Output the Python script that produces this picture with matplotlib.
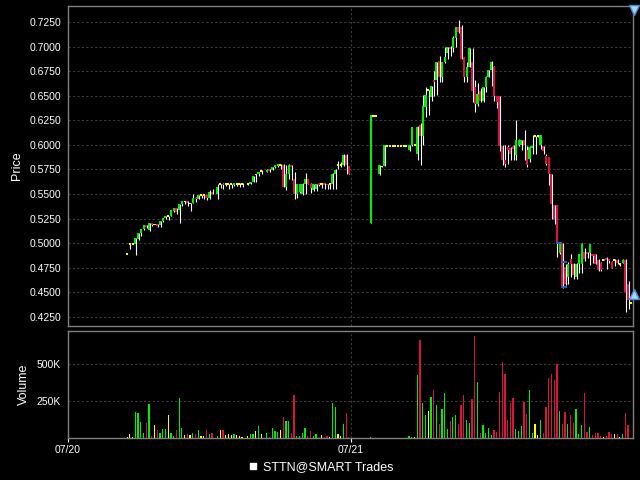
import numpy as np
import matplotlib
matplotlib.use("Agg")
import matplotlib.pyplot as plt
from matplotlib.lines import Line2D

plt.rcParams['font.family'] = ['Liberation Sans', 'DejaVu Sans']

# ---------------------------------------------------------------
# STTN@SMART, 15 min bars, 07/20 - 07/21
# ---------------------------------------------------------------
# day 1
idx1 = [0, 1, 2, 3, 4, 5, 6, 7, 8, 9, 10, 11, 12, 13, 14, 15, 16, 17, 18, 19,
        20, 21, 22, 23, 24, 25, 26, 27, 28, 29, 30, 31, 33, 34, 35, 36, 37, 38, 39, 40,
        41, 42, 44, 45, 46, 47, 48, 49, 51, 52, 53, 54, 55, 56, 57, 58, 59, 60, 61, 62,
        63, 64, 65, 66, 67, 68, 69, 70, 71, 72, 73, 74, 75, 76, 77, 78, 79, 80, 81]
open1 = [0.4890, 0.4995, 0.4995, 0.4995, 0.5045, 0.5100, 0.5140, 0.5185, 0.5130, 0.5205,
         0.5190, 0.5190, 0.5185, 0.5225, 0.5255, 0.5275, 0.5280, 0.5330, 0.5355, 0.5340,
         0.5395, 0.5425, 0.5425, 0.5405, 0.5410, 0.5465, 0.5450, 0.5490, 0.5490, 0.5490,
         0.5455, 0.5525, 0.5505, 0.5600, 0.5605, 0.5600, 0.5600, 0.5600, 0.5595, 0.5605,
         0.5605, 0.5605, 0.5605, 0.5605, 0.5625, 0.5700, 0.5700, 0.5735, 0.5725, 0.5748,
         0.5745, 0.5775, 0.5785, 0.5795, 0.5795, 0.5576, 0.5700, 0.5795, 0.5650, 0.5501,
         0.5520, 0.5501, 0.5603, 0.5651, 0.5603, 0.5545, 0.5550, 0.5610, 0.5603, 0.5610,
         0.5603, 0.5603, 0.5603, 0.5706, 0.5795, 0.5795, 0.5798, 0.5901, 0.5788]
high1 = [0.4890, 0.4995, 0.4995, 0.5050, 0.5105, 0.5140, 0.5185, 0.5190, 0.5205, 0.5210,
         0.5190, 0.5195, 0.5230, 0.5260, 0.5275, 0.5280, 0.5335, 0.5355, 0.5360, 0.5395,
         0.5425, 0.5430, 0.5430, 0.5410, 0.5500, 0.5470, 0.5490, 0.5495, 0.5495, 0.5495,
         0.5540, 0.5552, 0.5600, 0.5605, 0.5610, 0.5605, 0.5605, 0.5605, 0.5615, 0.5610,
         0.5610, 0.5610, 0.5610, 0.5625, 0.5680, 0.5705, 0.5725, 0.5740, 0.5750, 0.5752,
         0.5775, 0.5795, 0.5800, 0.5810, 0.5805, 0.5795, 0.5808, 0.5800, 0.5726, 0.5603,
         0.5603, 0.5610, 0.5715, 0.5655, 0.5608, 0.5605, 0.5605, 0.5612, 0.5605, 0.5615,
         0.5605, 0.5606, 0.5710, 0.5750, 0.5832, 0.5830, 0.5905, 0.5911, 0.5790]
low1 = [0.4890, 0.4940, 0.4995, 0.4885, 0.5030, 0.5070, 0.5135, 0.5150, 0.5120, 0.5180,
        0.5190, 0.5165, 0.5170, 0.5220, 0.5250, 0.5240, 0.5275, 0.5320, 0.5300, 0.5206,
        0.5380, 0.5400, 0.5380, 0.5330, 0.5405, 0.5420, 0.5445, 0.5460, 0.5445, 0.5440,
        0.5445, 0.5500, 0.5450, 0.5560, 0.5550, 0.5580, 0.5550, 0.5560, 0.5580, 0.5580,
        0.5570, 0.5570, 0.5590, 0.5600, 0.5620, 0.5620, 0.5680, 0.5700, 0.5720, 0.5720,
        0.5740, 0.5770, 0.5775, 0.5760, 0.5576, 0.5545, 0.5650, 0.5640, 0.5450, 0.5455,
        0.5510, 0.5495, 0.5500, 0.5600, 0.5510, 0.5530, 0.5535, 0.5580, 0.5560, 0.5550,
        0.5550, 0.5550, 0.5555, 0.5550, 0.5760, 0.5780, 0.5790, 0.5706, 0.5700]
close1 = [0.4890, 0.4995, 0.4995, 0.5050, 0.5105, 0.5140, 0.5185, 0.5165, 0.5205, 0.5190,
          0.5190, 0.5175, 0.5230, 0.5260, 0.5275, 0.5275, 0.5335, 0.5355, 0.5320, 0.5395,
          0.5425, 0.5425, 0.5405, 0.5405, 0.5465, 0.5445, 0.5490, 0.5490, 0.5490, 0.5455,
          0.5525, 0.5505, 0.5575, 0.5600, 0.5590, 0.5600, 0.5600, 0.5600, 0.5615, 0.5605,
          0.5605, 0.5605, 0.5605, 0.5625, 0.5680, 0.5700, 0.5725, 0.5735, 0.5748, 0.5735,
          0.5775, 0.5795, 0.5800, 0.5795, 0.5576, 0.5700, 0.5795, 0.5774, 0.5501, 0.5603,
          0.5600, 0.5603, 0.5651, 0.5603, 0.5560, 0.5603, 0.5603, 0.5600, 0.5603, 0.5598,
          0.5590, 0.5603, 0.5706, 0.5747, 0.5795, 0.5795, 0.5901, 0.5798, 0.5706]
vol1 = [9, 29, 9, 178, 171, 110, 36, 103, 232, 16, 90, 56, 36, 63, 63, 158, 36, 16, 56, 272,
        70, 22, 29, 22, 36, 29, 56, 16, 16, 56, 29, 36, 16, 56, 56, 22, 29, 22, 29, 22,
        16, 9, 16, 29, 29, 50, 83, 29, 36, 9, 70, 50, 43, 56, 144, 117, 117, 36, 292, 16,
        16, 36, 70, 16, 50, 16, 29, 9, 22, 9, 16, 9, 238, 212, 29, 16, 97, 171, 9]

# day 2
idx2 = [89, 90, 91, 92, 93, 94, 95, 96, 97, 98, 99, 100, 101, 102, 103, 104, 105, 106, 107, 108,
        109, 110, 111, 112, 113, 114, 115, 116, 117, 118, 119, 120, 121, 122, 123, 124, 125, 126, 127, 128,
        129, 130, 131, 132, 133, 134, 135, 136, 137, 138, 139, 140, 141, 142, 143, 144, 145, 146, 147, 148,
        149, 150, 151, 152, 153, 154, 155, 156, 157, 158, 159, 160, 161, 162, 163, 164, 165, 166, 167, 168,
        169, 170, 171, 172, 173, 174, 175, 176, 177, 178, 179, 180, 181, 182, 183, 184]
open2 = [0.5203, 0.6294, 0.6294, 0.5700, 0.5780, 0.5790, 0.5988, 0.5988, 0.5988, 0.5988,
         0.5988, 0.5988, 0.5988, 0.5988, 0.5944, 0.5995, 0.6000, 0.5911, 0.6200, 0.6087,
         0.6390, 0.6556, 0.6488, 0.6665, 0.6658, 0.6850, 0.6690, 0.6842, 0.6933, 0.6998,
         0.6988, 0.7090, 0.7202, 0.7202, 0.6890, 0.6694, 0.6796, 0.6842, 0.6593, 0.6417,
         0.6547, 0.6444, 0.6593, 0.6694, 0.6757, 0.6796, 0.6493, 0.6493, 0.5994, 0.5846,
         0.5975, 0.5965, 0.5989, 0.5897, 0.6000, 0.6000, 0.6047, 0.5945, 0.5860, 0.5970,
         0.6087, 0.6087, 0.5995, 0.5985, 0.5890, 0.5877, 0.5700, 0.5385, 0.5385, 0.4900,
         0.4995, 0.4758, 0.4657, 0.4843, 0.4792, 0.4657, 0.4792, 0.4792, 0.4910, 0.4910,
         0.4900, 0.4887, 0.4887, 0.4833, 0.4800, 0.4833, 0.4850, 0.4835, 0.4810, 0.4833,
         0.4833, 0.4792, 0.4800, 0.4833, 0.4590, 0.4393]
high2 = [0.6300, 0.6295, 0.6295, 0.5791, 0.5785, 0.6000, 0.5990, 0.5990, 0.5990, 0.5990,
         0.5990, 0.5990, 0.5990, 0.5990, 0.5995, 0.6182, 0.6005, 0.6195, 0.6220, 0.6505,
         0.6594, 0.6563, 0.6600, 0.6750, 0.6845, 0.6900, 0.6842, 0.7000, 0.6998, 0.7005,
         0.7110, 0.7202, 0.7270, 0.7215, 0.6895, 0.6845, 0.6990, 0.6983, 0.6665, 0.6631,
         0.6580, 0.6593, 0.6700, 0.6760, 0.6858, 0.6800, 0.6500, 0.6500, 0.6000, 0.6000,
         0.6000, 0.5975, 0.6000, 0.6250, 0.6060, 0.6050, 0.6150, 0.5990, 0.5985, 0.6097,
         0.6090, 0.6090, 0.6100, 0.5990, 0.5910, 0.5880, 0.5705, 0.5390, 0.5390, 0.5000,
         0.5000, 0.4790, 0.4810, 0.4890, 0.4800, 0.4800, 0.4894, 0.5000, 0.4950, 0.4915,
         0.4995, 0.4890, 0.4890, 0.4840, 0.4810, 0.4835, 0.4855, 0.4840, 0.4815, 0.4835,
         0.4840, 0.4800, 0.4840, 0.4840, 0.4620, 0.4395]
low2 = [0.5203, 0.6290, 0.6290, 0.5695, 0.5775, 0.5785, 0.5985, 0.5985, 0.5985, 0.5985,
        0.5985, 0.5985, 0.5985, 0.5985, 0.5937, 0.5990, 0.5995, 0.5850, 0.5795, 0.6000,
        0.6288, 0.6305, 0.6450, 0.6493, 0.6509, 0.6645, 0.6645, 0.6830, 0.6870, 0.6900,
        0.6945, 0.7000, 0.7140, 0.6870, 0.6645, 0.6645, 0.6790, 0.6440, 0.6330, 0.6400,
        0.6440, 0.6435, 0.6535, 0.6690, 0.6603, 0.6450, 0.6380, 0.5940, 0.5800, 0.5780,
        0.5810, 0.5850, 0.5843, 0.5850, 0.5990, 0.5950, 0.5843, 0.5780, 0.5830, 0.5910,
        0.5910, 0.6080, 0.5960, 0.5911, 0.5793, 0.5590, 0.5250, 0.5200, 0.4860, 0.4890,
        0.4540, 0.4580, 0.4590, 0.4657, 0.4640, 0.4640, 0.4700, 0.4700, 0.4820, 0.4850,
        0.4780, 0.4800, 0.4790, 0.4720, 0.4715, 0.4830, 0.4740, 0.4800, 0.4750, 0.4770,
        0.4790, 0.4770, 0.4795, 0.4300, 0.4330, 0.4390]
close2 = [0.6300, 0.6294, 0.6294, 0.5791, 0.5780, 0.5995, 0.5988, 0.5988, 0.5988, 0.5988,
          0.5988, 0.5988, 0.5988, 0.5988, 0.5995, 0.6182, 0.6000, 0.6182, 0.6090, 0.6397,
          0.6505, 0.6556, 0.6597, 0.6640, 0.6845, 0.6690, 0.6842, 0.6893, 0.6998, 0.6975,
          0.7090, 0.7202, 0.7150, 0.6878, 0.6694, 0.6796, 0.6983, 0.6547, 0.6417, 0.6518,
          0.6451, 0.6593, 0.6694, 0.6757, 0.6842, 0.6493, 0.6434, 0.5994, 0.5843, 0.5805,
          0.5948, 0.5907, 0.5955, 0.6047, 0.6047, 0.6047, 0.6000, 0.5793, 0.5979, 0.5985,
          0.6087, 0.6087, 0.6097, 0.5938, 0.5810, 0.5700, 0.5402, 0.5250, 0.5013, 0.4989,
          0.4555, 0.4590, 0.4792, 0.4792, 0.4680, 0.4792, 0.4894, 0.4995, 0.4843, 0.4895,
          0.4989, 0.4870, 0.4792, 0.4725, 0.4725, 0.4833, 0.4833, 0.4820, 0.4750, 0.4833,
          0.4800, 0.4792, 0.4833, 0.4505, 0.4420, 0.4393]
vol2 = [9, 2, 2, 3, 2, 3, 2, 2, 2, 2, 2, 2, 2, 2, 16, 4, 9, 428, 664, 238,
        158, 185, 279, 326, 225, 97, 198, 306, 63, 117, 144, 158, 97, 225, 292, 124, 103, 265, 691, 380,
        36, 90, 36, 70, 22, 56, 43, 313, 515, 434, 124, 238, 272, 63, 50, 83, 245, 164, 326, 36,
        97, 22, 124, 36, 212, 407, 434, 394, 502, 185, 97, 178, 97, 158, 103, 198, 29, 90, 306, 43,
        77, 22, 36, 36, 16, 9, 16, 43, 29, 29, 29, 9, 29, 171, 90, 2]

# execution markers (blue)
mark_x = [157.7, 159.6, 159.7]
mark_y = [0.5005, 0.4805, 0.4557]

price_ticks = [0.4250, 0.4500, 0.4750, 0.5000, 0.5250, 0.5500, 0.5750,
               0.6000, 0.6250, 0.6500, 0.6750, 0.7000, 0.7250]
vol_ticks = [250, 500]
vol_labels = ['250K', '500K']
date_pos = [-21.6, 81.6]
date_labels = ['07/20', '07/21']

# ---------------------------------------------------------------
x = np.array(idx1 + idx2, dtype=float)
o = np.array(open1 + open2)
h = np.array(high1 + high2)
l = np.array(low1 + low2)
c = np.array(close1 + close2)
v = np.array(vol1 + vol2)

GREEN = '#00ee00'
RED = '#dc143c'
YELLOW = '#ffff00'
cols = [GREEN if cc > oo else (RED if cc < oo else YELLOW) for oo, cc in zip(o, c)]

fig = plt.figure(figsize=(6.4, 4.8), dpi=100, facecolor='black')
ax = fig.add_axes([68 / 640, 1 - 326 / 480, 565 / 640, 320 / 480])
axv = fig.add_axes([68 / 640, 1 - 438 / 480, 565 / 640, 107 / 480], sharex=ax)

for a in (ax, axv):
    a.set_facecolor('black')
    for s in a.spines.values():
        s.set_color('#808080')
        s.set_linewidth(1.0)
    a.tick_params(axis='y', colors='white', labelsize=7.5, length=0, pad=5)
    a.grid(True, axis='y', color='#3a3a3a', linestyle=(0, (2, 2)), linewidth=0.8)
    a.axvline(date_pos[1], color='#3a3a3a', linestyle=(0, (2, 2)), linewidth=0.8)
    a.set_axisbelow(True)

# price panel: wicks + bodies
ax.vlines(x + 0.2, l, h, colors='white', linewidth=0.8, zorder=2)
body_h = np.maximum(np.abs(c - o), 0.0018)
body_mid = (o + c) / 2
ax.bar(x, body_h, bottom=body_mid - body_h / 2, width=0.75, color=cols,
       linewidth=0, zorder=3)
ax.bar(mark_x, 0.0020, bottom=np.array(mark_y) - 0.0010, width=2.2,
       color='#1e64c8', linewidth=0, zorder=4)

ax.set_ylim(0.4158, 0.7413)
ax.set_yticks(price_ticks)
ax.set_yticklabels(['%.4f' % t for t in price_ticks])
ax.set_ylabel('Price', color='white', fontsize=9)
ax.yaxis.set_label_coords(-0.080, 0.5)
ax.tick_params(axis='x', bottom=False, labelbottom=False)

# scroll icons
ax.plot([1.002], [0.988], marker='v', ms=7, mfc='#a8d4f4', mec='#4a8ad0',
        transform=ax.transAxes, clip_on=False, zorder=5)
ax.plot([1.002], [0.10], marker='^', ms=7, mfc='#a8d4f4', mec='#4a8ad0',
        transform=ax.transAxes, clip_on=False, zorder=5)

# volume panel
axv.bar(x, v, width=0.45, color=cols, linewidth=0, zorder=3)
axv.set_ylim(0, 723)
axv.set_yticks(vol_ticks)
axv.set_yticklabels(vol_labels)
axv.set_ylabel('Volume', color='white', fontsize=9)
axv.yaxis.set_label_coords(-0.067, 0.5)

axv.set_xlim(-21.6, 184.8)
axv.set_xticks(date_pos)
axv.set_xticklabels(date_labels)
axv.tick_params(axis='x', colors='white', labelsize=7.5, length=3, pad=2)
for t in axv.xaxis.get_ticklines():
    t.set_color('#808080')

handle = Line2D([], [], linestyle='none', marker='s', ms=5, mfc='white', mec='white')
fig.legend([handle], ['STTN@SMART Trades'], loc='center', bbox_to_anchor=(0.5, 0.027),
           frameon=False, labelcolor='white', fontsize=9, handletextpad=0.3,
           handlelength=1.0)

fig.savefig('out.png', dpi=100, facecolor='black')
